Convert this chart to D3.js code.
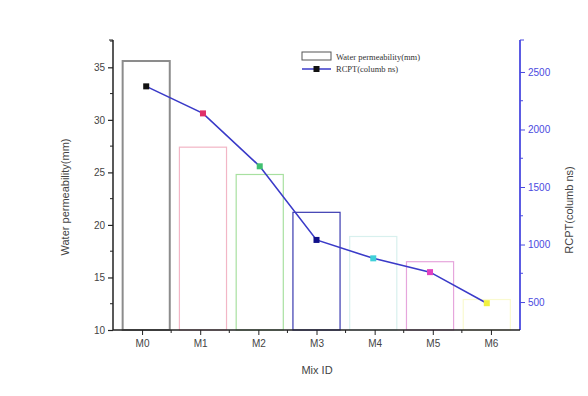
<!DOCTYPE html>
<html><head><meta charset="utf-8">
<script src="https://cdn.jsdelivr.net/npm/d3@7"></script>
<style>body{margin:0;background:#fff}</style>
</head><body>
<svg id="c" width="588" height="396"></svg>
<script>
const categories = ["M0","M1","M2","M3","M4","M5","M6"];
const permeability = [35.6, 27.4, 24.8, 21.2, 18.9, 16.5, 12.9];
const rcpt = [2375, 2140, 1680, 1040, 880, 760, 490];
const barColors = ["#8c8c8c","#f2b6c6","#a8e0a0","#3a3ab0","#d8f0ee","#e6a6dc","#fafad0"];
const markerColors = ["#111111","#e0306a","#40c070","#10108a","#40d0d8","#e040c0","#f0f040"];
const leftTicks = [10,15,20,25,30,35];
const rightTicks = [500,1000,1500,2000,2500];

const svg = d3.select("#c");
const L = 113, R = 520, T = 40, B = 330;
const x = d3.scaleBand().domain(categories).range([L, R]).padding(0.17);
const y = d3.scaleLinear().domain([10, 37.6]).range([B, T]);
const y2 = d3.scaleLinear().domain([257, 2778]).range([B, T]);

// bars
svg.selectAll("rect.bar").data(categories).enter().append("rect")
  .attr("x", d => x(d)).attr("width", x.bandwidth())
  .attr("y", (d,i) => y(permeability[i]))
  .attr("height", (d,i) => B - y(permeability[i]))
  .attr("fill", "none")
  .attr("stroke", (d,i) => barColors[i])
  .attr("stroke-width", (d,i) => i === 0 ? 2 : 1.2);

// line
const cx = d => x(d) + x.bandwidth()/2;
svg.append("path").datum(categories)
  .attr("d", d3.line().x(d => cx(d)).y((d,i) => y2(rcpt[i])))
  .attr("fill","none").attr("stroke","#3a3ac8").attr("stroke-width",1.6);
svg.selectAll("rect.mk").data(categories).enter().append("rect")
  .attr("x", d => cx(d) - 3).attr("y", (d,i) => y2(rcpt[i]) - 3)
  .attr("width", 6).attr("height", 6)
  .attr("fill", (d,i) => markerColors[i]);

const font = "Liberation Sans, Arial, sans-serif";
// left axis
const gl = svg.append("g").attr("transform", `translate(${L},0)`);
gl.call(d3.axisLeft(y).tickValues(leftTicks).tickSize(5).tickSizeOuter(0))
  .call(g => g.select(".domain").attr("stroke","#222").attr("stroke-width",1.5))
  .call(g => g.selectAll(".tick line").attr("stroke","#222").attr("stroke-width",1.2))
  .call(g => g.selectAll("text").attr("font-family",font).attr("font-size",10).attr("fill","#444"));
gl.call(g => g.select(".domain").attr("d", `M0,${B}V${T}`));
gl.selectAll("line.minor").data(leftTicks.map(v => v + 2.5).filter(v => v < 37.6)).enter().append("line")
  .attr("x1", -3).attr("x2", 0).attr("y1", d => y(d)).attr("y2", d => y(d)).attr("stroke","#222");
gl.append("line").attr("x1",-4).attr("x2",0).attr("y1",T).attr("y2",T).attr("stroke","#222");

// right axis
const blue = "#4a4ae0";
const gr = svg.append("g").attr("transform", `translate(${R},0)`);
gr.call(d3.axisRight(y2).tickValues(rightTicks).tickFormat(d3.format("d")).tickSize(5).tickSizeOuter(0))
  .call(g => g.select(".domain").attr("stroke",blue).attr("stroke-width",1.8).attr("d", `M0,${B}V${T}`))
  .call(g => g.selectAll(".tick line").attr("stroke",blue))
  .call(g => g.selectAll("text").attr("font-family",font).attr("font-size",10).attr("fill",blue));
gr.selectAll("line.minor").data([750,1250,1750,2250]).enter().append("line")
  .attr("x1", 0).attr("x2", 3).attr("y1", d => y2(d)).attr("y2", d => y2(d)).attr("stroke",blue);
gr.append("line").attr("x1",0).attr("x2",4).attr("y1",T).attr("y2",T).attr("stroke",blue);

// bottom axis
const gb = svg.append("g").attr("transform", `translate(0,${B})`);
const xp = d3.scalePoint().domain(categories).range([L, R]).padding(0.5);
gb.call(d3.axisBottom(xp).tickSize(5).tickSizeOuter(0))
  .call(g => g.select(".domain").attr("stroke","#222").attr("stroke-width",1.5).attr("d", `M${L},0H${R}`))
  .call(g => g.selectAll(".tick line").attr("stroke","#222"))
  .call(g => g.selectAll("text").attr("font-family",font).attr("font-size",10).attr("fill","#444").attr("dy","0.9em"));
gb.selectAll("line.minor").data(categories.slice(1)).enter().append("line")
  .attr("x1", d => xp(d) - xp.step()/2).attr("x2", d => xp(d) - xp.step()/2)
  .attr("y1", 0).attr("y2", 3).attr("stroke","#222");

// axis titles
svg.append("text").attr("transform","translate(69,197) rotate(-90)").attr("text-anchor","middle")
  .attr("font-family",font).attr("font-size",11).attr("fill","#444").text("Water permeability(mm)");
svg.append("text").attr("transform","translate(573,210) rotate(-90)").attr("text-anchor","middle")
  .attr("font-family",font).attr("font-size",11).attr("fill","#444").text("RCPT(columb ns)");
svg.append("text").attr("x",317).attr("y",374).attr("text-anchor","middle")
  .attr("font-family",font).attr("font-size",11).attr("fill","#444").text("Mix ID");

// legend
const lg = svg.append("g");
lg.append("rect").attr("x",302).attr("y",52).attr("width",29).attr("height",8).attr("fill","none").attr("stroke","#555").attr("stroke-width",1);
lg.append("text").attr("x",336).attr("y",59.5).attr("font-family","Liberation Serif, Times New Roman, serif").attr("font-size",8.5).attr("fill","#333").text("Water permeability(mm)");
lg.append("line").attr("x1",302).attr("x2",331).attr("y1",69).attr("y2",69).attr("stroke","#3a3ac8").attr("stroke-width",1.5);
lg.append("rect").attr("x",313.5).attr("y",66).attr("width",6).attr("height",6).attr("fill","#111");
lg.append("text").attr("x",336).attr("y",72).attr("font-family","Liberation Serif, Times New Roman, serif").attr("font-size",8.5).attr("fill","#333").text("RCPT(columb ns)");
</script>
</body></html>
